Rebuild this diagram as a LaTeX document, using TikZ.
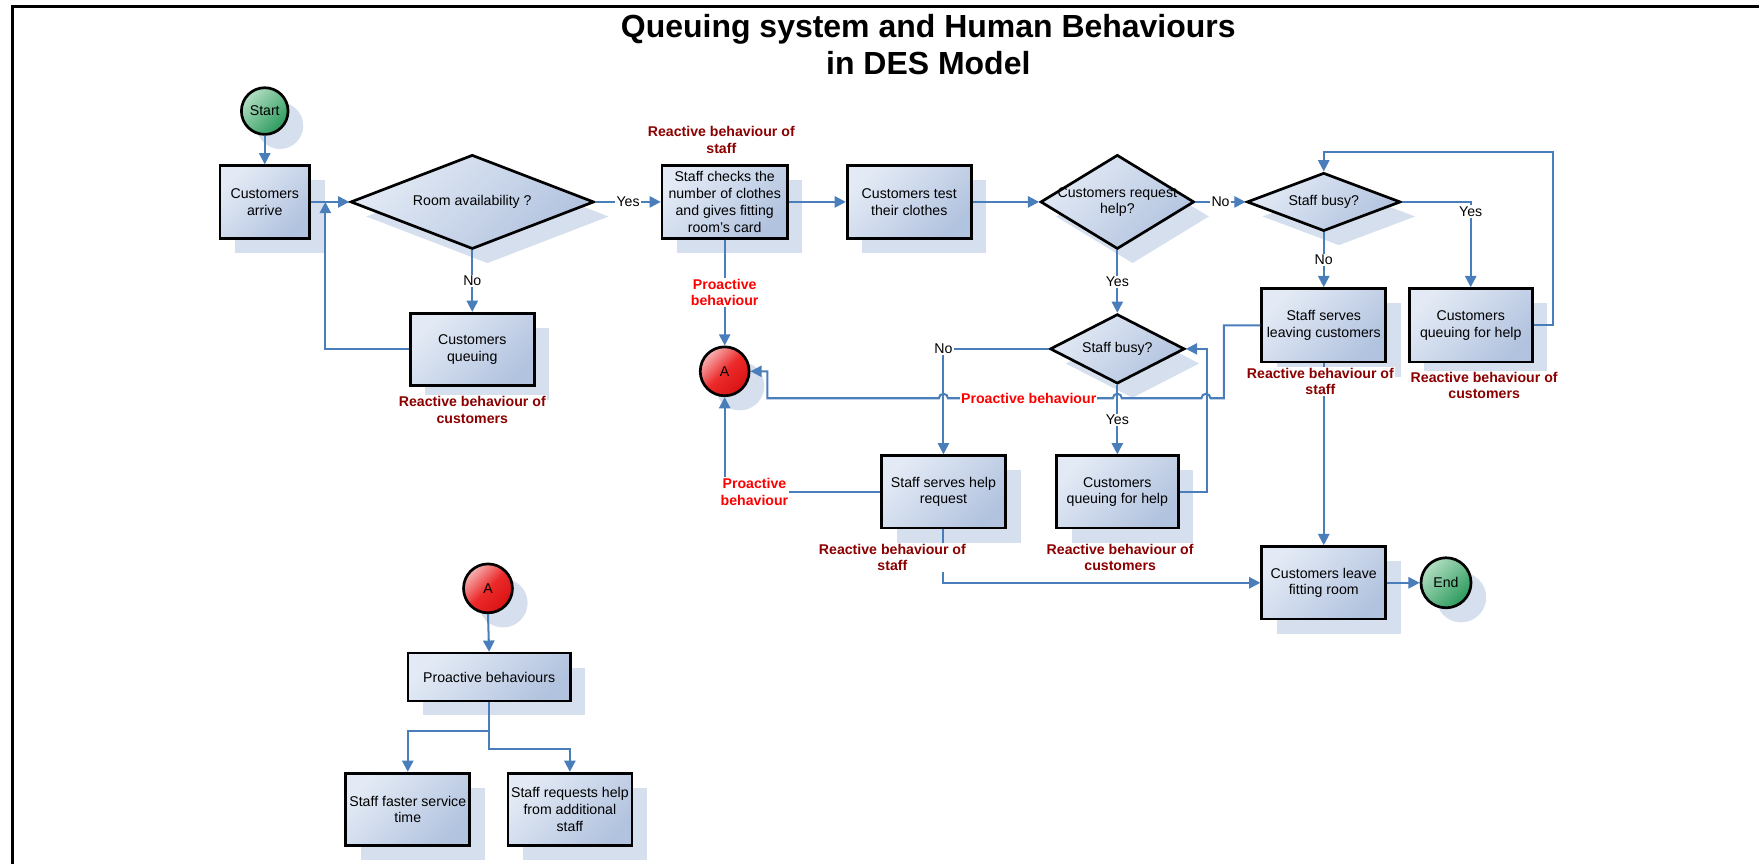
\documentclass[tikz,border=0pt]{standalone}
\usepackage{fontspec}
\setmainfont{Liberation Sans}
\usetikzlibrary{shapes.geometric,arrows.meta,shadows}

\definecolor{conncol}{HTML}{4A7EBB}
\definecolor{boxhi}{HTML}{E3EAF5}
\definecolor{boxlo}{HTML}{B2C3DF}
\definecolor{shadowc}{HTML}{D5DFEE}
\definecolor{dred}{HTML}{8B0000}
\definecolor{greenhi}{HTML}{B2DEC2}
\definecolor{greenlo}{HTML}{2A9A5C}
\definecolor{redhi}{HTML}{F6B4B4}
\definecolor{redmid}{HTML}{EC2A2A}
\definecolor{redlo}{HTML}{D81212}

\newcommand{\nodefont}{\fontsize{12.6}{14.9}\selectfont}

\tikzset{
  shadowed/.style={drop shadow={shadow xshift=13.5pt, shadow yshift=-13pt, fill=shadowc, opacity=1}},
  flowshape/.style={shadowed, draw=black, line width=2.4pt, top color=boxhi, bottom color=boxlo, shading angle=45},
  procbox/.style={flowshape, rectangle, inner sep=1pt, align=center, font=\nodefont,
    minimum width=110.6pt, minimum height=64.6pt},
  decision/.style={flowshape, diamond, inner sep=0pt},
  dtext/.style={align=center, font=\nodefont, inner sep=0pt},
  terminal/.style={shadowed, draw=black, line width=2.4pt, circle, inner sep=0pt, font=\nodefont,
    top color=greenhi, bottom color=greenlo, shading angle=45},
  offpage/.style={shadowed, draw=black, line width=2.4pt, circle, inner sep=0pt, font=\nodefont,
    top color=redhi, bottom color=redlo, middle color=redmid, shading angle=45},
  flow/.style={draw=conncol, line width=1.8pt, -{Triangle[length=10pt,width=10pt]}},
  answer/.style={fill=white, inner sep=1pt, font=\nodefont},
  reactive/.style={fill=white, inner sep=1pt, text=dred, font=\bfseries\nodefont, align=center},
  proactive/.style={fill=white, inner sep=1pt, text=red, font=\bfseries\nodefont, align=center},
}

\begin{document}
\begin{tikzpicture}[x=1pt,y=-1pt]
\useasboundingbox (0,0) rectangle (1568,770);

% frame
\draw[line width=2.5pt] (11,770) -- (11,5.5) -- (1568,5.5);

% title
\node[font=\bfseries\fontsize{28.5}{33}\selectfont, align=center] (title) at (827.5,40)
  {Queuing system and Human Behaviours\\in DES Model};

% main flow
\node[terminal, minimum size=41.6pt] (start) at (236,99) {Start};
\node[procbox, minimum width=79.6pt] (arrive) at (236,180) {Customers\\arrive};
\node[decision, minimum width=217pt, minimum height=84pt,
      label={[dtext]center:Room availability ?}] (room) at (421,180) {};
\node[procbox] (queue) at (421,311.5) {Customers\\queuing};
\node[procbox, minimum width=111.6pt] (check) at (646,180)
  {Staff checks the\\number of clothes\\and gives fitting\\room's card};
\node[procbox] (test) at (810.5,180) {Customers test\\their clothes};
\node[decision, minimum width=137pt, minimum height=84pt,
      label={[dtext]center:{Customers request\\help?}}] (crh) at (996,180) {};
\node[decision, minimum width=137pt, minimum height=52pt,
      label={[dtext]center:Staff busy?}] (busy1) at (1180,180) {};
\node[procbox, minimum height=65.6pt] (leaving) at (1180,290) {Staff serves\\leaving customers};
\node[procbox, minimum width=109.6pt, minimum height=65.6pt] (qhelp1) at (1311,290)
  {Customers\\queuing for help};
\node[decision, minimum width=120pt, minimum height=62pt,
      label={[dtext]center:Staff busy?}] (busy2) at (996,311) {};
\node[procbox] (serve) at (841,438.5) {Staff serves help\\request};
\node[procbox, minimum width=108.6pt] (qhelp2) at (996,438.5) {Customers\\queuing for help};
\node[offpage, minimum size=43.6pt] (A1) at (646,331) {A};
\node[procbox] (leave) at (1180,519.5) {Customers leave\\fitting room};
\node[terminal, minimum size=44.6pt] (end) at (1289,519.5) {End};

% proactive behaviours
\node[offpage, minimum size=43.6pt] (A2) at (435,524.5) {A};
\node[procbox, minimum width=144.6pt, minimum height=42.6pt] (pbs) at (436,603.5) {Proactive behaviours};
\node[procbox] (faster) at (363.5,721.5) {Staff faster service\\time};
\node[procbox] (request) at (508,721.5) {Staff requests help\\from additional\\staff};

% connectors
\coordinate (merge) at (290,180);
\draw[flow] (start.south) -- (arrive.north);
\draw[flow] (arrive.east) -- (room.west);
\draw[flow] (room.south) -- node[answer]{No} (queue.north);
\draw[flow] (queue.west) -| (merge);
\draw[flow] (room.east) -- node[answer]{Yes} (check.west);
\draw[flow] (check.east) -- (test.west);
\draw[flow] (test.east) -- (crh.west);
\draw[flow] (crh.east) -- node[answer]{No} (busy1.west);
\draw[flow] (crh.south) -- node[answer]{Yes} (busy2.north);
\draw[flow] (busy1.east) -| node[answer, pos=0.5, yshift=-8.5pt]{Yes} (qhelp1.north);
\draw[flow] (busy1.south) -- node[answer]{No} (leaving.north);
\draw[flow] (qhelp1.east) -- ++(17,0) |- ([yshift=17pt]busy1.north) -- (busy1.north);
\draw[flow] (leaving.south) -- (leave.north);
\draw[flow] (leaving.west) -| (1091,355) -- (1079,355)
  arc[start angle=0, end angle=-180, radius=4] -- (1000,355)
  arc[start angle=0, end angle=-180, radius=4] -- (845,355)
  arc[start angle=0, end angle=-180, radius=4] -- (684,355) |- (A1.east);
\draw[flow] (check.south) -- node[proactive]{Proactive\\behaviour} (A1.north);
\draw[flow] (busy2.west) -| node[answer, pos=0.5]{No} (serve.north);
\draw[flow] (busy2.south) -- node[answer]{Yes} (qhelp2.north);
\draw[flow] (qhelp2.east) -- ++(24,0) |- (busy2.east);
\draw[flow] (serve.west) -| (A1.south);
\draw[flow] (serve.south) |- (leave.west);
\draw[flow] (leave.east) -- (end.west);
\draw[flow] (A2.south) -- (pbs.north);
\draw[flow] (pbs.south) -- ++(0,25.5) -| (faster.north);
\draw[flow] (pbs.south) -- ++(0,41.5) -| (request.north);

% behaviour annotations
\node[reactive] (rstaff1) at (643,125) {Reactive behaviour of\\staff};
\node[reactive] (rcust1) at (421,365.5) {Reactive behaviour of\\customers};
\node[reactive] (rstaff2) at (1177,340) {Reactive behaviour of\\staff};
\node[reactive] (rcust2) at (1323,343.5) {Reactive behaviour of\\customers};
\node[reactive] (rstaff3) at (795.5,497) {Reactive behaviour of\\staff};
\node[reactive] (rcust3) at (998.5,497) {Reactive behaviour of\\customers};
\node[proactive] (pro1) at (917,355) {Proactive behaviour};
\node[proactive] (pro2) at (672.5,438.5) {Proactive\\behaviour};
\end{tikzpicture}
\end{document}
